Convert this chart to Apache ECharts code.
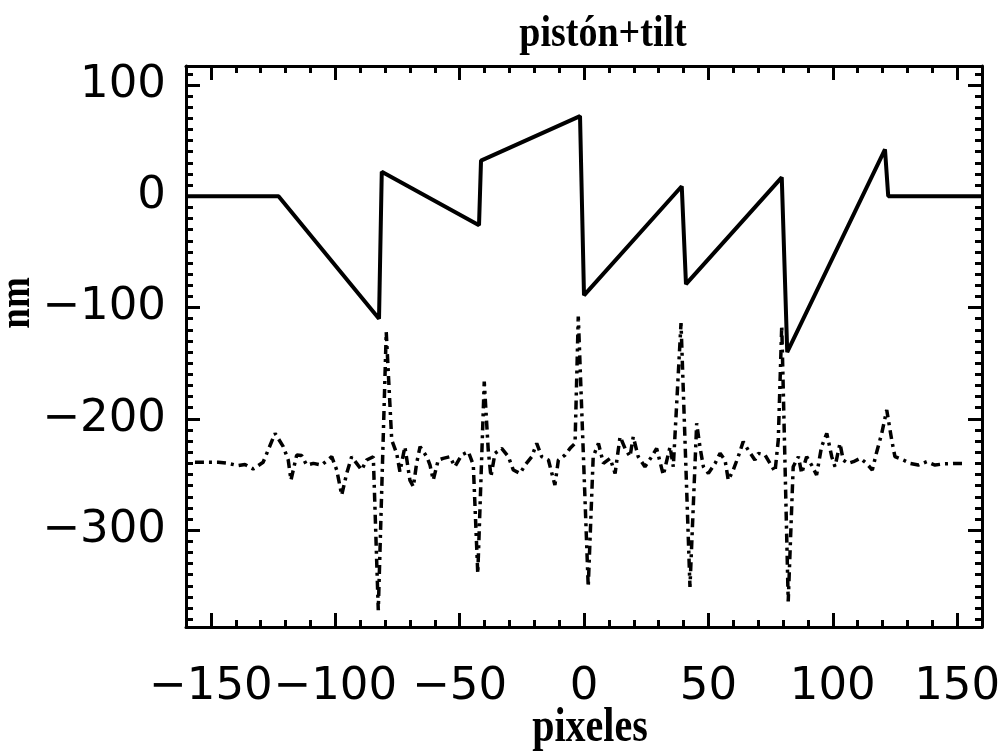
<!DOCTYPE html>
<html>
<head>
<meta charset="utf-8">
<script src="https://cdn.jsdelivr.net/npm/echarts@6/dist/echarts.min.js"></script>
<style>
html,body{margin:0;padding:0;background:#fff;}
#chart{width:1007px;height:752px;}
</style>
</head>
<body>
<div id="chart"></div>
<script>
// ---- data ----
const titleText = 'pistón+tilt';
const xName = 'pixeles';
const yName = 'nm';
const xTicks = [-150, -100, -50, 0, 50, 100, 150];
const yTicks = [-300, -200, -100, 0, 100];
const xRange = [-160, 160];
const yRange = [-387, 117];

// piston + tilt (solid)
const solidX = [-160, -122.8, -82.4, -81.3, -42.2, -41.4, -1.6, 0.0, 39.3, 41.0, 79.5, 81.7, 121.0, 122.3, 160];
const solidY = [0, 0, -110, 22, -26, 32, 72, -89, 9, -79, 17, -140, 42, 0, 0];

// dash-dot curve
const dashX = [-156.4,-147,-143,-139,-136.3,-133,-129,-124.2,-120.9,-118.9,-117.8,-115.5,-113.5,-111.5,-108.8,-105.5,-101.4,-99.4,-97.4,-95.4,-93.4,-91.4,-89.4,-87.4,-84.7,-82.7,-79.5,-77.3,-75.3,-74,-72,-70,-68.6,-67.3,-65.9,-63.2,-61.9,-60.6,-58.6,-56.6,-53.9,-51.9,-49.2,-46.5,-44.5,-42.7,-40.1,-38.5,-37.4,-35.8,-33.1,-30.4,-28.4,-25.7,-23.7,-21,-19,-17,-14.3,-11.7,-10.3,-7.6,-5.6,-3.6,-2.3,1.7,3.7,5.8,7.8,10.5,12.5,14.5,16.5,18.5,19.8,21.8,24.5,27.2,29.2,31.9,34.6,35.9,39,42.6,45.3,46.6,48,50,52.7,54.7,56.7,58,60,62,64,66,68.7,70.1,72.8,74.8,76.8,78.1,79.5,82.1,84.1,86.2,87.5,89.5,91.5,93.5,95.5,97.6,99.6,100.9,102.9,104.2,106.2,108.3,111,113.6,115.9,117.7,119.7,121.7,123.7,125,128.4,131,134.4,137.8,141.1,144.4,149.1,153.2];
const dashY = [-239,-239,-240,-242,-241,-245,-239,-213,-225,-237,-255,-232.5,-233,-241.5,-240,-241.5,-234,-246,-268.5,-249,-234,-240,-246,-237,-234,-372,-122,-219,-231,-247.5,-225,-255,-261,-240,-225,-234,-241.5,-255,-237,-235.5,-234,-243,-232.5,-229.5,-241.5,-339,-166.5,-228,-252,-231,-226.5,-234,-246,-249,-241.5,-234,-222,-234,-237,-259.5,-237,-232.5,-226.5,-222,-108,-351,-234,-222,-240,-235.5,-249,-216,-226.5,-234,-216,-234,-243,-234,-226.5,-250.5,-225,-243,-114,-351,-204,-225,-243,-249,-240,-231,-237,-255,-246,-234,-220.5,-228,-237,-231,-232.5,-240,-247.5,-219,-116,-364,-243,-234,-249,-234,-241.5,-250.5,-225,-213,-234,-243,-222,-237,-240,-238.5,-235.5,-240,-246,-229.5,-213,-192,-219,-234,-237,-240,-241.5,-238.5,-241.5,-240.5,-240,-240];

// ---- build ----
function minorValues(range, step) {
  const out = [];
  for (let v = Math.ceil(range[0] / step) * step; v <= range[1]; v += step) {
    if (v > range[0] && v < range[1]) out.push(v);
  }
  return out;
}
const xMinor = minorValues(xRange, 10);
const yMinor = minorValues(yRange, 10);
const fmt = v => String(v).replace('-', '\u2212');

const labelFont = {fontFamily: 'DejaVu Sans', fontSize: 45, color: '#000'};

function mkAxis(kind, pos, range, major, minor, withLabels, isMinor) {
  return {
    type: 'value', position: pos, min: range[0], max: range[1],
    splitLine: {show: false},
    axisLine: {show: !isMinor, onZero: false, lineStyle: {color: '#000', width: 3}},
    axisTick: {show: true, inside: true, length: isMinor ? 7 : 14,
      lineStyle: {color: '#000', width: 3},
      customValues: isMinor ? minor : major},
    axisLabel: withLabels ? Object.assign({show: true, customValues: major, formatter: fmt,
      margin: kind === 'x' ? 38 : 20, padding: kind === 'x' ? 0 : [10, 0, 0, 0]}, labelFont) : {show: false},
    axisPointer: {show: false}
  };
}

const xAxes = [
  mkAxis('x', 'bottom', xRange, xTicks, xMinor, true, false),
  mkAxis('x', 'bottom', xRange, xTicks, xMinor, false, true),
  mkAxis('x', 'top', xRange, xTicks, xMinor, false, false),
  mkAxis('x', 'top', xRange, xTicks, xMinor, false, true)
];
const yAxes = [
  mkAxis('y', 'left', yRange, yTicks, yMinor, true, false),
  mkAxis('y', 'left', yRange, yTicks, yMinor, false, true),
  mkAxis('y', 'right', yRange, yTicks, yMinor, false, false),
  mkAxis('y', 'right', yRange, yTicks, yMinor, false, true)
];

const solidData = solidX.map((x, i) => [x, solidY[i]]);
const dashData = dashX.map((x, i) => [x, dashY[i]]);

const serif = {fontFamily: 'Liberation Serif', fontWeight: 'bold', fill: '#000',
  textAlign: 'center', textVerticalAlign: 'middle'};

const chart = echarts.init(document.getElementById('chart'), null, {renderer: 'canvas'});
chart.setOption({
  backgroundColor: '#fff',
  animation: false,
  grid: {left: 186, right: 25, top: 66, bottom: 125, containLabel: false},
  xAxis: xAxes,
  yAxis: yAxes,
  graphic: [
    {type: 'text', x: 603, y: 35, scaleY: 1.15,
      style: Object.assign({text: titleText, fontSize: 38}, serif)},
    {type: 'text', x: 590, y: 729, scaleY: 1.2,
      style: Object.assign({text: xName, fontSize: 40}, serif)},
    {type: 'text', x: 18, y: 303, rotation: Math.PI / 2, scaleY: 1.2,
      style: Object.assign({text: yName, fontSize: 37}, serif)}
  ],
  series: [
    {type: 'line', xAxisIndex: 0, yAxisIndex: 0, data: solidData, showSymbol: false, symbol: 'none',
      lineStyle: {color: '#000', width: 4}, z: 3},
    {type: 'line', xAxisIndex: 0, yAxisIndex: 0, data: dashData, showSymbol: false, symbol: 'none',
      lineStyle: {color: '#000', width: 3.5, type: [9, 5, 3, 5]}, z: 3}
  ]
});
</script>
</body>
</html>
